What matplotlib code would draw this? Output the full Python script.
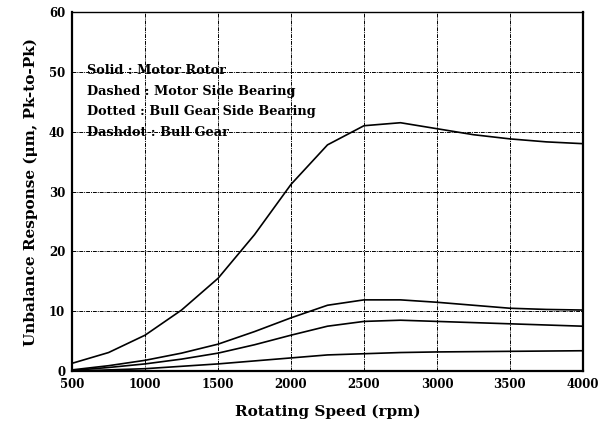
import matplotlib
matplotlib.use('Agg')
import matplotlib.pyplot as plt

# rotating speed (rpm)
speed = [500, 750, 1000, 1250, 1500, 1750, 2000, 2250, 2500, 2750, 3000, 3250, 3500, 3750, 4000]

# unbalance response (um, pk-to-pk)
motor_rotor = [1.3, 3.1, 6.0, 10.2, 15.5, 22.8, 31.2, 37.8, 41.0, 41.5, 40.5, 39.5, 38.8, 38.3, 38.0]
motor_bearing = [0.2, 0.9, 1.8, 3.0, 4.5, 6.6, 8.9, 11.0, 11.9, 11.9, 11.5, 11.0, 10.5, 10.3, 10.2]
gear_bearing = [0.1, 0.6, 1.2, 2.0, 3.0, 4.4, 6.0, 7.5, 8.3, 8.5, 8.3, 8.1, 7.9, 7.7, 7.5]
bull_gear = [0.0, 0.2, 0.4, 0.8, 1.2, 1.7, 2.2, 2.7, 2.9, 3.1, 3.2, 3.25, 3.3, 3.35, 3.4]

legend_lines = ['Solid : Motor Rotor', 'Dashed : Motor Side Bearing',
                'Dotted : Bull Gear Side Bearing', 'Dashdot : Bull Gear']
legend_y = [49.7, 46.2, 42.8, 39.3]

plt.rcParams['font.family'] = 'DejaVu Serif'
plt.rcParams['font.weight'] = 'bold'

fig = plt.figure(figsize=(6.11, 4.29), dpi=100)
ax = fig.add_axes([0.118, 0.135, 0.836, 0.837])

for ys in (motor_rotor, motor_bearing, gear_bearing, bull_gear):
    ax.plot(speed, ys, color='black', linewidth=1.2)

ax.set_xlim(500, 4000)
ax.set_ylim(0, 60)
ax.set_xticks(range(500, 4001, 500))
ax.set_yticks(range(0, 61, 10))
ax.grid(True, color='black', linestyle=(0, (4, 1, 1, 1)), linewidth=0.7)
ax.tick_params(length=0, labelsize=8.5, pad=5)
for lab in ax.get_xticklabels() + ax.get_yticklabels():
    lab.set_fontweight('bold')
for side in ax.spines.values():
    side.set_linewidth(1.6)
ax.spines['top'].set_linewidth(1.0)

for txt, y in zip(legend_lines, legend_y):
    ax.text(603, y, txt, fontsize=9.3, fontweight='bold', va='baseline')

ax.set_xlabel('Rotating Speed (rpm)', fontsize=11, fontweight='bold', labelpad=10)
ax.set_ylabel('Unbalance Response (\u03bcm, Pk-to-Pk)', fontsize=11, fontweight='bold', labelpad=8)

fig.savefig('out.png', dpi=100)
